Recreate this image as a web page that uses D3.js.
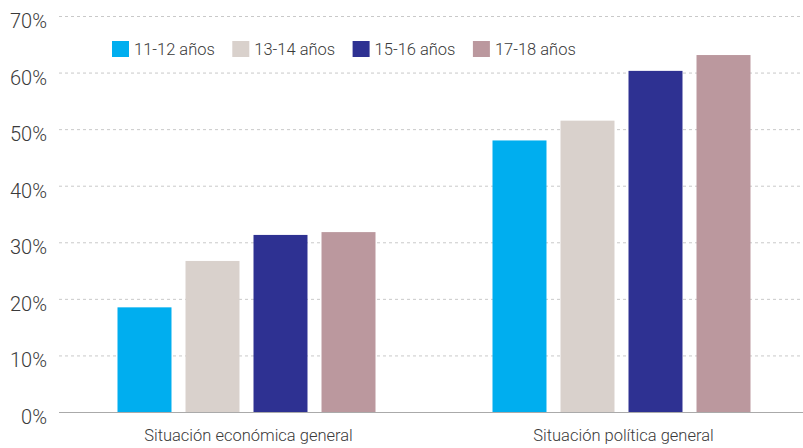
<!DOCTYPE html>
<html><head><meta charset="utf-8">
<script src="https://cdn.jsdelivr.net/npm/d3@7"></script>
<style>body{margin:0;background:#fff}svg{display:block}text{font-family:Roboto,"Liberation Sans",sans-serif;}</style>
</head><body><svg id="c" width="803" height="448"></svg>
<script>
const categories = ["Situación económica general", "Situación política general"];
const seriesNames = ["11-12 años", "13-14 años", "15-16 años", "17-18 años"];
const seriesColors = ["#00aeef", "#d9d1cc", "#2e3192", "#bb989e"];
const values = [
  [18.5, 48.0],
  [26.7, 51.5],
  [31.3, 60.3],
  [31.8, 63.1]
];
const yTicks = [0, 10, 20, 30, 40, 50, 60, 70];

const svg = d3.select("#c");
const y = d3.scaleLinear().domain([0, 70]).range([412, 16]);
const x0 = d3.scaleBand().domain(categories).range([59, 809]);
const x1 = d3.scaleBand().domain(seriesNames).range([58.5, 316.5]).paddingInner(0.206).paddingOuter(0);

// grid
svg.append("g").selectAll("line").data(yTicks.filter(d => d > 0)).join("line")
  .attr("x1", 59).attr("x2", 803)
  .attr("y1", d => y(d) + 0.5).attr("y2", d => y(d) + 0.5)
  .attr("stroke", "#c9c9c9").attr("stroke-width", 1).attr("stroke-dasharray", "3,3");

// y labels
svg.append("g").selectAll("text").data(yTicks).join("text")
  .attr("x", 47).attr("y", d => y(d) + 5).attr("dy", "0.35em")
  .attr("text-anchor", "end").attr("font-size", 20).attr("fill", "#3a3a3a").attr("font-weight", 300)
  .text(d => d + "%");

// bars
const g = svg.append("g");
seriesNames.forEach((s, i) => {
  g.append("g").selectAll("rect").data(categories).join("rect")
    .attr("x", c => x0(c) + x1(s))
    .attr("width", x1.bandwidth())
    .attr("y", (c, j) => y(values[i][j]))
    .attr("height", (c, j) => y(0) - y(values[i][j]))
    .attr("fill", seriesColors[i]);
});

// baseline
svg.append("line").attr("x1", 59).attr("x2", 803).attr("y1", 412.5).attr("y2", 412.5)
  .attr("stroke", "#aaaaaa").attr("stroke-width", 1.2);

// category labels
svg.append("g").selectAll("text").data(categories).join("text")
  .attr("x", c => x0(c) + x0.bandwidth() / 2 + 2).attr("y", 441)
  .attr("text-anchor", "middle").attr("font-size", 16.5).attr("fill", "#3a3a3a").attr("font-weight", 300)
  .text(c => c);

// legend
const lg = svg.append("g");
seriesNames.forEach((s, i) => {
  const lx = 112 + i * 120.3;
  lg.append("rect").attr("x", lx).attr("y", 41).attr("width", 17).attr("height", 16).attr("fill", seriesColors[i]);
  lg.append("text").attr("x", lx + 22).attr("y", 49.5).attr("dy", "0.35em")
    .attr("font-size", 16.5).attr("fill", "#3a3a3a").attr("font-weight", 300).text(s);
});
</script></body></html>
